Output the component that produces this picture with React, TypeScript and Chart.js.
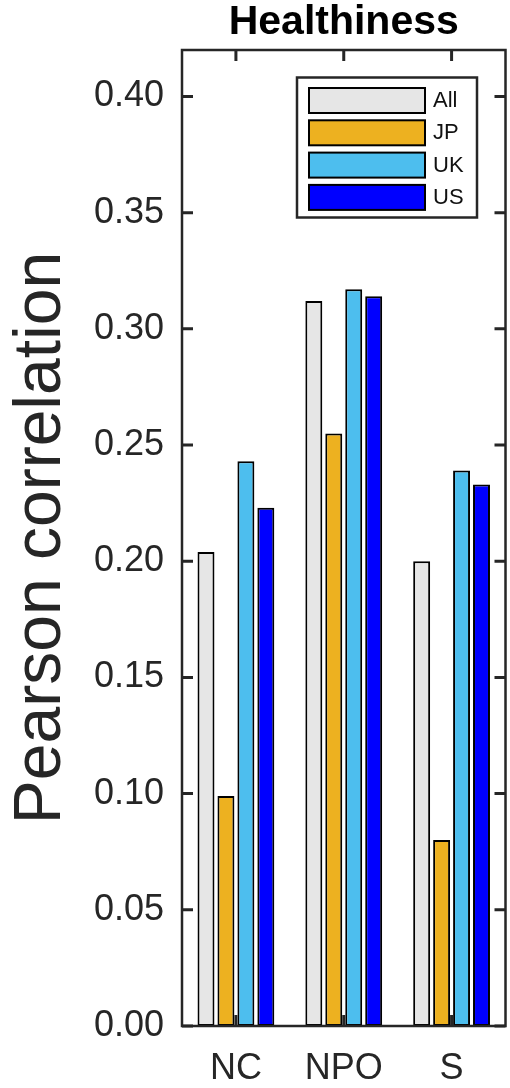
import React, { useEffect, useRef } from "react";
import { Chart, registerables } from "chart.js";

Chart.register(...registerables);

const categories = ["NC", "NPO", "S"];
const seriesLabels = ["All", "JP", "UK", "US"];
const allValues = [0.204, 0.312, 0.2];
const jpValues = [0.099, 0.255, 0.08];
const ukValues = [0.243, 0.317, 0.239];
const usValues = [0.223, 0.314, 0.233];
const seriesColors = ["#E6E6E6", "#EDB120", "#4DBEEE", "#0000FF"];
const chartTitle = "Healthiness";
const yTitle = "Pearson correlation";

const FONT = "'Liberation Sans', Arial, sans-serif";
const INK = "#262626";

const framePlugin = {
  id: "frameTicks",
  afterDatasetsDraw(chart: any) {
    const { ctx, chartArea } = chart;
    const { left, right, top, bottom } = chartArea;
    const ys = chart.scales.y;
    const xs = chart.scales.x;
    ctx.save();
    ctx.strokeStyle = INK;
    ctx.lineWidth = 3;
    ctx.beginPath();
    ys.ticks.forEach((t: any) => {
      const y = ys.getPixelForValue(t.value);
      ctx.moveTo(left, y);
      ctx.lineTo(left + 11, y);
      ctx.moveTo(right, y);
      ctx.lineTo(right - 11, y);
    });
    categories.forEach((_, i) => {
      const x = xs.getPixelForValue(i);
      ctx.moveTo(x, top);
      ctx.lineTo(x, top + 11);
      ctx.moveTo(x, bottom);
      ctx.lineTo(x, bottom - 11);
    });
    ctx.stroke();
    ctx.lineWidth = 2.5;
    ctx.strokeRect(left, top, right - left, bottom - top);
    ctx.restore();
  },
};

const legendPlugin = {
  id: "boxLegend",
  afterDraw(chart: any) {
    const { ctx, chartArea } = chart;
    const boxW = 180;
    const boxH = 140;
    const boxLeft = chartArea.right - 28.5 - boxW;
    const boxTop = chartArea.top + 27.5;
    ctx.save();
    ctx.fillStyle = "#ffffff";
    ctx.fillRect(boxLeft, boxTop, boxW, boxH);
    ctx.strokeStyle = INK;
    ctx.lineWidth = 2.5;
    ctx.strokeRect(boxLeft, boxTop, boxW, boxH);
    chart.data.datasets.forEach((ds: any, i: number) => {
      const y = boxTop + 10.5 + i * 32.3;
      ctx.fillStyle = ds.backgroundColor;
      ctx.fillRect(boxLeft + 12, y, 116, 25);
      ctx.strokeStyle = "#000";
      ctx.lineWidth = 2;
      ctx.strokeRect(boxLeft + 12, y, 116, 25);
      ctx.fillStyle = "#111";
      ctx.font = `22px ${FONT}`;
      ctx.textBaseline = "middle";
      ctx.textAlign = "left";
      ctx.fillText(ds.label, boxLeft + 136, y + 13);
    });
    ctx.restore();
  },
};

export default function App() {
  const ref = useRef<HTMLCanvasElement | null>(null);
  useEffect(() => {
    document.body.style.margin = "0";
    const canvas = ref.current;
    if (!canvas) return;
    const seriesValues = [allValues, jpValues, ukValues, usValues];
    const chart = new Chart(canvas, {
      type: "bar",
      data: {
        labels: categories,
        datasets: seriesLabels.map((label, i) => ({
          label,
          data: seriesValues[i],
          backgroundColor: seriesColors[i],
          borderColor: "#000",
          borderWidth: 2,
          borderSkipped: false,
          categoryPercentage: 0.74,
          barPercentage: 0.85,
        })),
      },
      options: {
        animation: false,
        responsive: false,
        devicePixelRatio: 1,
        layout: { padding: { left: 0, right: 4.5, top: 0, bottom: 0 } },
        plugins: {
          legend: { display: false },
          tooltip: { enabled: false },
          title: {
            display: true,
            fullSize: false,
            text: chartTitle,
            color: "#000",
            font: { family: FONT, size: 41, weight: "bold", lineHeight: 1.1 },
            padding: { top: 0.5, bottom: 4.4 },
          },
        },
        scales: {
          x: {
            grid: { display: false, drawTicks: false },
            border: { display: false },
            ticks: {
              color: INK,
              font: { family: FONT, size: 36 },
              padding: 21,
            },
            afterFit: (s: any) => {
              s.height = 62;
            },
          },
          y: {
            min: 0,
            max: 0.42,
            grid: { display: false, drawTicks: false },
            border: { display: false },
            ticks: {
              stepSize: 0.05,
              includeBounds: false,
              color: INK,
              font: { family: FONT, size: 36 },
              padding: 18,
              callback: (v: any) => Number(v).toFixed(2),
            },
            title: {
              display: true,
              text: yTitle,
              color: INK,
              font: { family: FONT, size: 66 },
              padding: { top: 2, bottom: 0 },
            },
            afterFit: (s: any) => {
              s.width = 182;
            },
          },
        },
      },
      plugins: [framePlugin, legendPlugin],
    });
    return () => chart.destroy();
  }, []);
  return (
    <div style={{ width: 510, height: 1088 }}>
      <canvas ref={ref} width={510} height={1088} style={{ display: "block", width: 510, height: 1088 }} />
    </div>
  );
}
